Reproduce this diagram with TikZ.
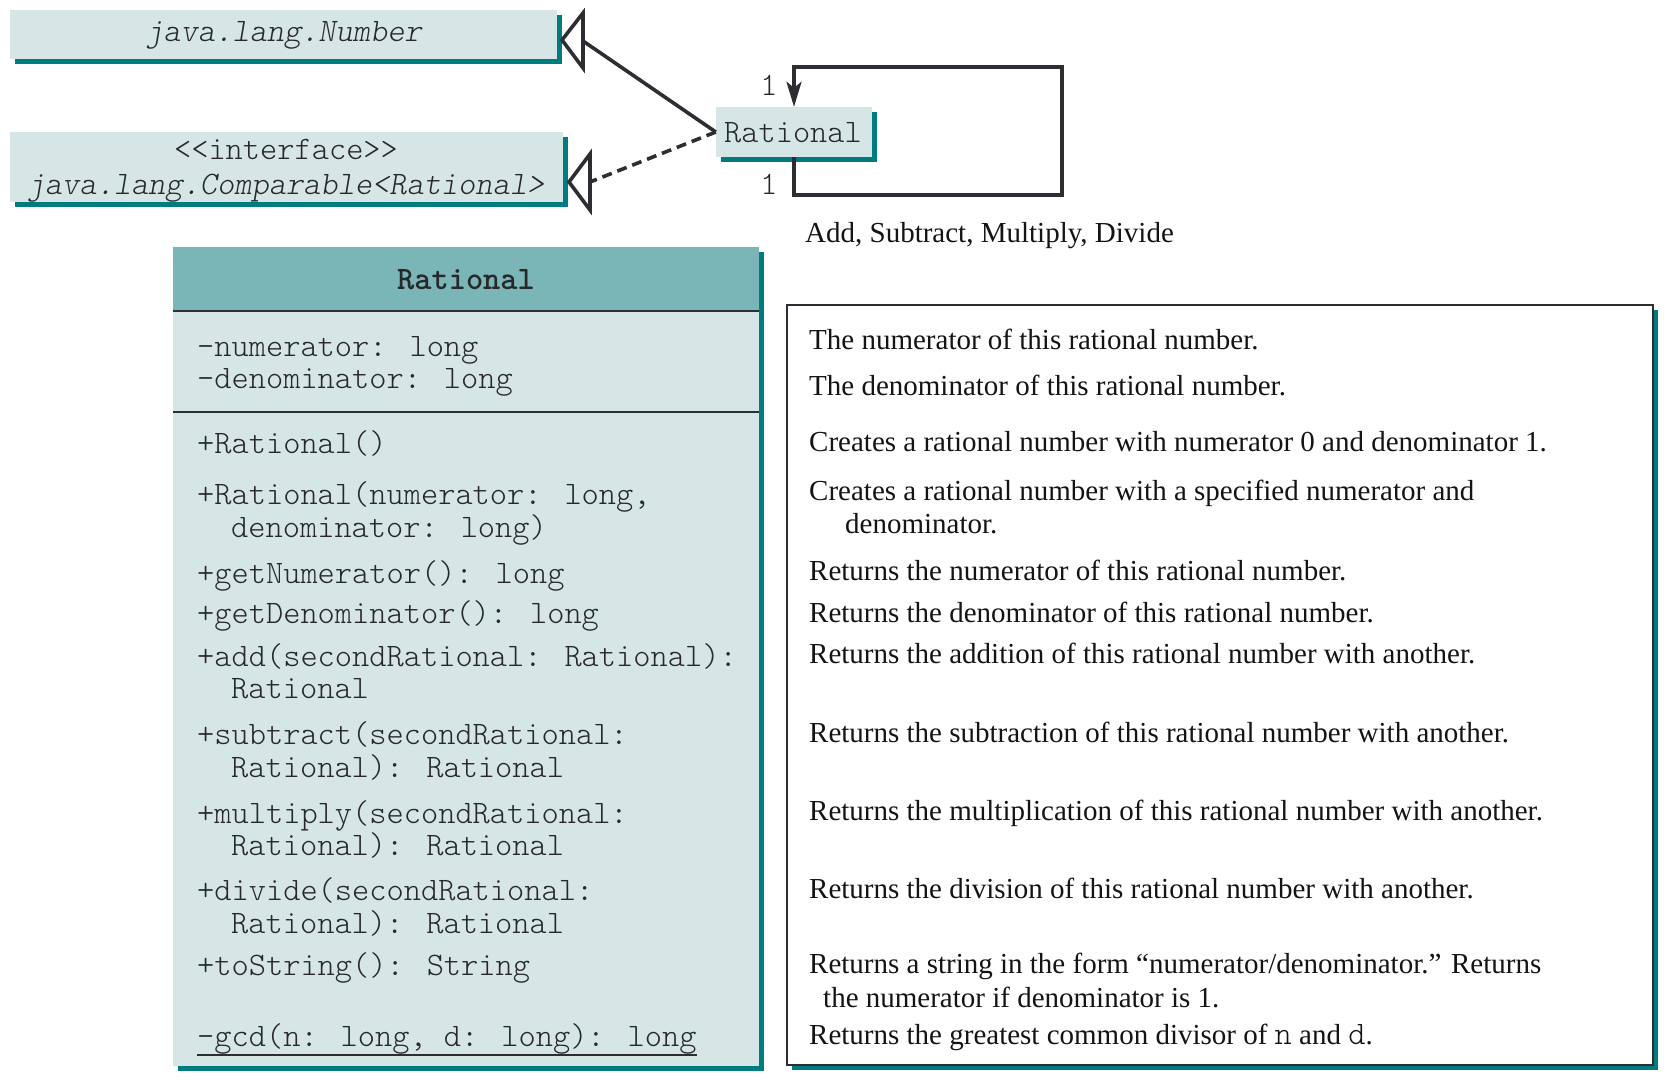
\documentclass[tikz,border=0pt]{standalone}
\usepackage{fontspec}
\setmainfont{Liberation Serif}
\usetikzlibrary{arrows.meta,shadows}
\definecolor{boxfill}{RGB}{214,230,230}
\definecolor{headfill}{RGB}{122,181,184}
\definecolor{shadowc}{RGB}{0,123,127}
\definecolor{linec}{RGB}{45,45,52}
\definecolor{txtc}{RGB}{40,40,40}
\newcommand\monofnt{\fontfamily{lmtt}\fontseries{l}\fontshape{n}\fontsize{32.8}{36}\selectfont}
\newcommand\monoit{\fontfamily{lmtt}\fontseries{l}\fontshape{sl}\fontsize{32.8}{36}\selectfont}
\newcommand\monobf{\fontfamily{lmtt}\fontseries{b}\fontshape{n}\fontsize{32.8}{36}\selectfont}
\newcommand\serifnt{\fontsize{29}{32}\selectfont}
\begin{document}
\begin{tikzpicture}[x=1pt,y=-1pt,
  boxnode/.style={fill=boxfill,inner sep=0pt,draw=none,
    drop shadow={shadow xshift=5pt,shadow yshift=-5pt,fill=shadowc,opacity=1}},
  mtext/.style={anchor=base west,inner sep=0pt,font=\monofnt,text=txtc},
  ctext/.style={anchor=base,inner sep=0pt,font=\monofnt,text=txtc},
  stext/.style={anchor=base west,inner sep=0pt,font=\serifnt,text=black!92},
  conn/.style={draw=linec,line width=3.6pt},
  sepline/.style={draw=linec,line width=2.2pt},
]
\useasboundingbox (0,0) rectangle (1666,1080);

% ---- superclass / interface boxes
\node[boxnode,minimum width=547,minimum height=49] (num) at (283.5,34.5) {};
\node[ctext,font=\monoit] (numtxt) at (284,41) {java.lang.Number};

\node[boxnode,minimum width=553,minimum height=70] (iface) at (286.5,167) {};
\node[ctext] (ifacetxt1) at (286,159) {\textless\textless interface\textgreater\textgreater};
\node[ctext,font=\monoit] (ifacetxt2) at (286,194) {java.lang.Comparable\textless Rational\textgreater};

% ---- small Rational box
\node[boxnode,minimum width=156,minimum height=50] (rat) at (794,132) {};
\node[ctext] (rattxt) at (793,142) {Rational};

% ---- generalization (solid) to Number
\coordinate (numback) at (583,41);
\draw[conn] (rat.west) -- (numback);
\draw[conn,line join=miter] (562,40) -- (583,13) -- (583,68) -- cycle;

% ---- realization (dashed) to Comparable
\coordinate (ifaceback) at (590,182);
\draw[conn,dash pattern=on 10pt off 6pt] (rat.west) -- (ifaceback);
\draw[conn,line join=miter] (569,182) -- (590,154) -- (590,210) -- cycle;

% ---- self association
\coordinate (lb) at (1062,195);
\coordinate (lt) at (1062,67);
\draw[conn,-{Stealth[length=25pt,width=15pt,inset=6pt]}] (rat.south) |- (lb) -- (lt) -| (rat.north);
\node[ctext] (one1) at (769,95) {1};
\node[ctext] (one2) at (769,194) {1};
\node[stext] (assoc) at (805,242) {Add, Subtract, Multiply, Divide};

% ---- class box
\node[boxnode,minimum width=586,minimum height=819] (cls) at (466,656.5) {};
\fill[headfill] (cls.north west) rectangle (759,311);
\draw[sepline] (173,311) -- (759,311);
\draw[sepline] (173,412) -- (759,412);
\node[ctext,font=\monobf] (clsname) at (466,289) {Rational};

\node[mtext] (a1) at (197,356) {-numerator: long};
\node[mtext] (a2) at (197,388) {-denominator: long};

\node[mtext] (m1) at (197,453) {+Rational()};
\node[mtext] (m2) at (197,504) {+Rational(numerator: long,};
\node[mtext] (m2b) at (231,537) {denominator: long)};
\node[mtext] (m3) at (197,583) {+getNumerator(): long};
\node[mtext] (m4) at (197,623) {+getDenominator(): long};
\node[mtext] (m5) at (197,666) {+add(secondRational: Rational):};
\node[mtext] (m5b) at (231,698) {Rational};
\node[mtext] (m6) at (197,744) {+subtract(secondRational:};
\node[mtext] (m6b) at (231,777) {Rational): Rational};
\node[mtext] (m7) at (197,823) {+multiply(secondRational:};
\node[mtext] (m7b) at (231,855) {Rational): Rational};
\node[mtext] (m8) at (197,900) {+divide(secondRational:};
\node[mtext] (m8b) at (231,933) {Rational): Rational};
\node[mtext] (m9) at (197,975) {+toString(): String};
\node[mtext] (m10) at (197,1046) {-gcd(n: long, d: long): long};
\draw[draw=linec,line width=2pt] ([yshift=-9pt]m10.base west) -- ([yshift=-9pt]m10.base east);

% ---- description box
\node[draw=linec,line width=2pt,fill=white,inner sep=0pt,minimum width=866,minimum height=760,
  drop shadow={shadow xshift=5pt,shadow yshift=-5pt,fill=shadowc,opacity=1}] (desc) at (1220,685) {};

\node[stext] (d1) at (809,349) {The numerator of this rational number.};
\node[stext] (d2) at (809,395) {The denominator of this rational number.};
\node[stext] (d3) at (809,451) {Creates a rational number with numerator 0 and denominator 1.};
\node[stext] (d4) at (809,500) {Creates a rational number with a specified numerator and};
\node[stext] (d4b) at (845,533) {denominator.};
\node[stext] (d5) at (809,580) {Returns the numerator of this rational number.};
\node[stext] (d6) at (809,622) {Returns the denominator of this rational number.};
\node[stext] (d7) at (809,663) {Returns the addition of this rational number with another.};
\node[stext] (d8) at (809,742) {Returns the subtraction of this rational number with another.};
\node[stext] (d9) at (809,820) {Returns the multiplication of this rational number with another.};
\node[stext] (d10) at (809,898) {Returns the division of this rational number with another.};
\node[stext] (d11) at (809,973) {Returns a string in the form “numerator/denominator.” Returns};
\node[stext] (d11b) at (823,1007) {the numerator if denominator is 1.};
\node[stext] (d12) at (809,1044) {Returns the greatest common divisor of {\monofnt n} and {\monofnt d}.};
\end{tikzpicture}
\end{document}
